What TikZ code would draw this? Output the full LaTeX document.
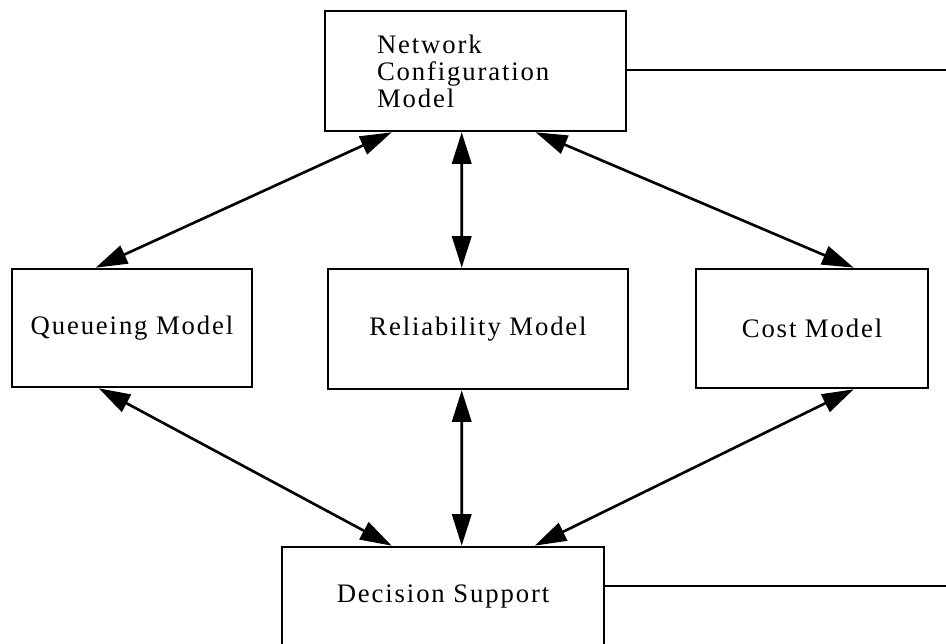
\documentclass[tikz,border=0pt]{standalone}
\usepackage{fontspec}
\setmainfont{Liberation Serif}[LetterSpace=7]
\usetikzlibrary{arrows.meta,calc}

\tikzset{
  block/.style={draw, line width=1.5pt, inner sep=0pt, align=center,
    font=\fontsize{15.2}{15.4}\selectfont},
  link/.style={line width=1.5pt,
    {Triangle[length=18pt,width=11pt]}-{Triangle[length=18pt,width=11pt]}}
}

\begin{document}
\begin{tikzpicture}[x=0.02cm,y=-0.02cm]
  \useasboundingbox (0,0) rectangle (946,644);

  \node[block, align=left, text width=3.94cm, inner xsep=1.04cm, minimum height=2.4cm]
    (netcfg) at (475.5,71) {Network\\Configuration\\Model};
  \node[block, minimum width=4.8cm, minimum height=2.36cm] (queueing) at (132,328) {Queueing Model};
  \node[block, minimum width=6cm, minimum height=2.4cm] (reliability) at (478,329) {Reliability Model};
  \node[block, minimum width=4.64cm, minimum height=2.38cm] (cost) at (812,328.5) {Cost Model};
  \node[block, minimum width=6.44cm, minimum height=2cm] (decision) at (443,597) {Decision Support};

  \coordinate (rimtop) at (946,70);
  \coordinate (rimbot) at (946,586);

  % model links
  \draw[link] ($(netcfg.south west)+(68,0)$) -- ($(queueing.north west)+(85,0)$);
  \draw[link] ($(netcfg.south west)+(138,0)$) -- ($(reliability.north west)+(135,0)$);
  \draw[link] ($(netcfg.south west)+(212,0)$) -- ($(cost.north west)+(159,0)$);
  \draw[link] ($(queueing.south west)+(88,0)$) -- ($(decision.north west)+(111,0)$);
  \draw[link] ($(reliability.south west)+(135,0)$) -- ($(decision.north west)+(181,0)$);
  \draw[link] ($(cost.south west)+(159,0)$) -- ($(decision.north west)+(254,0)$);

  % outgoing lines
  \draw[line width=1.5pt] (netcfg.east |- rimtop) -- (rimtop);
  \draw[line width=1.5pt] (decision.north east |- rimbot) -- (rimbot);
\end{tikzpicture}
\end{document}
